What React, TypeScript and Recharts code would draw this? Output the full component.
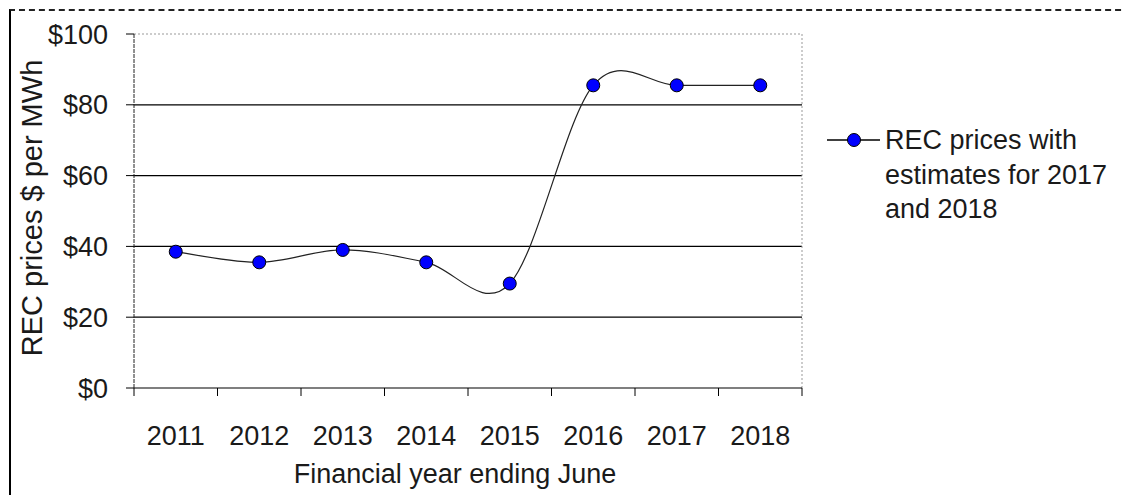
import React from "react";
import {
  LineChart,
  Line,
  XAxis,
  YAxis,
  CartesianGrid,
  ReferenceLine,
  Legend,
} from "recharts";

// Values
const years = [2011, 2012, 2013, 2014, 2015, 2016, 2017, 2018];
const recPrices = [38.5, 35.5, 39, 35.5, 29.5, 85.5, 85.5, 85.5];
const priceTicks = [0, 20, 40, 60, 80, 100];
const seriesName = "REC prices with estimates for 2017 and 2018";

const data = years.map((year, i) => ({ year, price: recPrices[i] }));

// tick marks sit between the years, labels on the years
const yearEdges = [...years.map((y) => y - 0.5), years[years.length - 1] + 0.5];
const xTicks = [...yearEdges, ...years].sort((a, b) => a - b);

const FONT = "'Liberation Sans', Arial, sans-serif";
const TEXT = "#1a1a1a";
const X_TICK_SIZE = 8;
const X_TICK_MARGIN = 30;

// Excel style smoothed line (bezier with 1/6 tangents)
const excelSmooth = (context: any) => {
  let pts: number[][] = [];
  return {
    areaStart() {},
    areaEnd() {},
    lineStart() {
      pts = [];
    },
    point(x: number, y: number) {
      pts.push([+x, +y]);
    },
    lineEnd() {
      const n = pts.length;
      if (!n) return;
      context.moveTo(pts[0][0], pts[0][1]);
      for (let i = 0; i < n - 1; i++) {
        const p0 = pts[Math.max(i - 1, 0)];
        const p1 = pts[i];
        const p2 = pts[i + 1];
        const p3 = pts[Math.min(i + 2, n - 1)];
        context.bezierCurveTo(
          p1[0] + (p2[0] - p0[0]) / 6,
          p1[1] + (p2[1] - p0[1]) / 6,
          p2[0] - (p3[0] - p1[0]) / 6,
          p2[1] - (p3[1] - p1[1]) / 6,
          p2[0],
          p2[1]
        );
      }
    },
  };
};

const YearTick = (props: any) => {
  const { x, y, payload } = props;
  const axisY = y - X_TICK_SIZE - X_TICK_MARGIN;
  if (payload.value % 1 !== 0) {
    return <line x1={x} x2={x} y1={axisY} y2={axisY + X_TICK_SIZE} stroke="#000" />;
  }
  return (
    <text x={x} y={y} dy="0.71em" textAnchor="middle" fill={TEXT} fontSize={27}>
      {payload.value}
    </text>
  );
};

const BlueDot = (props: any) => {
  const { cx, cy } = props;
  return <circle cx={cx} cy={cy} r={6.5} fill="#0000ff" stroke="#000" strokeWidth={1} />;
};

const renderLegend = () => (
  <div style={{ display: "flex", alignItems: "flex-start", fontFamily: FONT }}>
    <svg width={58} height={34}>
      <line x1={0} x2={53} y1={17} y2={17} stroke="#000" strokeWidth={1.5} />
      <circle cx={27} cy={17} r={6.5} fill="#0000ff" stroke="#000" />
    </svg>
    <div style={{ width: 232, fontSize: 27, lineHeight: "34.5px", color: TEXT }}>
      {seriesName}
    </div>
  </div>
);

export default function App() {
  return (
    <div
      style={{
        position: "absolute",
        left: 0,
        top: 0,
        width: 1125,
        height: 495,
        overflow: "hidden",
        background: "#fff",
        fontFamily: FONT,
      }}
    >
      <div
        style={{
          position: "absolute",
          left: 9,
          top: 9,
          width: 1130,
          height: 500,
          borderLeft: "2px solid #000",
          borderTop: "2px dashed #222",
        }}
      />
      <LineChart
        width={1125}
        height={495}
        data={data}
        margin={{ top: 34, right: 323, bottom: 0, left: 0 }}
        style={{ position: "absolute", left: 0, top: 0 }}
      >
        <CartesianGrid
          vertical={false}
          horizontalValues={[20, 40, 60, 80]}
          stroke="#000"
          strokeWidth={1.2}
        />
        <ReferenceLine y={100} stroke="#999" strokeDasharray="2 2" />
        <ReferenceLine x={yearEdges[yearEdges.length - 1]} stroke="#999" strokeDasharray="2 2" />
        <XAxis
          dataKey="year"
          type="number"
          domain={[yearEdges[0], yearEdges[yearEdges.length - 1]]}
          ticks={xTicks}
          interval={0}
          tick={<YearTick />}
          tickLine={false}
          tickSize={X_TICK_SIZE}
          tickMargin={X_TICK_MARGIN}
          height={107}
          axisLine={{ stroke: "#000", strokeWidth: 1.2 }}
          label={{
            value: "Financial year ending June",
            position: "insideBottom",
            offset: 12,
            dx: -13,
            fill: TEXT,
            fontSize: 27,
          }}
        />
        <YAxis
          type="number"
          domain={[0, 100]}
          ticks={priceTicks}
          interval={0}
          width={134}
          tickSize={8}
          tickMargin={18}
          tickFormatter={(v: number) => `$${v}`}
          tick={{ fill: TEXT, fontSize: 27 }}
          tickLine={{ stroke: "#000" }}
          axisLine={{ stroke: "#222", strokeDasharray: "4 1" }}
          label={{
            value: "REC prices $ per MWh",
            angle: -90,
            position: "insideLeft",
            offset: 32,
            dy: -3,
            fill: TEXT,
            fontSize: 29,
            style: { textAnchor: "middle" },
          }}
        />
        <Legend
          layout="horizontal"
          verticalAlign="middle"
          align="center"
          content={renderLegend}
          wrapperStyle={{ left: 827, top: 123, width: 300 }}
        />
        <Line
          name={seriesName}
          dataKey="price"
          type={excelSmooth as any}
          stroke="#222"
          strokeWidth={1.2}
          dot={<BlueDot />}
          activeDot={false}
          isAnimationActive={false}
        />
      </LineChart>
    </div>
  );
}
